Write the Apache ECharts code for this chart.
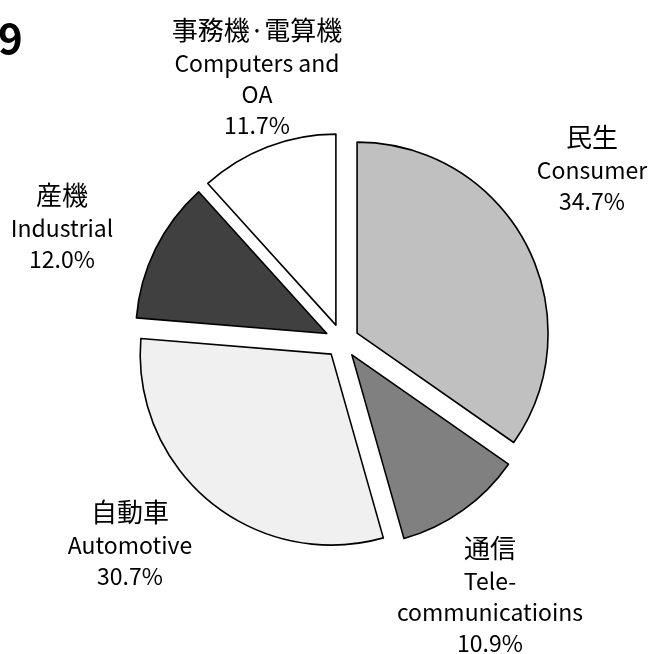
<!DOCTYPE html>
<html>
<head>
<meta charset="utf-8">
<script src="https://cdn.jsdelivr.net/npm/echarts@6/dist/echarts.min.js"></script>
<style>
html,body{margin:0;padding:0;background:#fff;}
#c{width:648px;height:654px;}
</style>
</head>
<body>
<div id="c"></div>
<script>
// Data
const namesJa = ['民生', '通信', '自動車', '産機', '事務機·電算機'];
const namesEn = ['Consumer', 'Tele-\ncommunicatioins', 'Automotive', 'Industrial', 'Computers and\nOA'];
const shares = [34.7, 10.9, 30.7, 12.0, 11.7];

// Styles / layout (not data)
const colors = ['#c0c0c0', '#808080', '#f0f0f0', '#404040', '#ffffff'];
const labelPos = [[592, 119.5], [490, 530.5], [130, 494.5], [62, 177.5], [257, 12.5]];
const FONT = '"Noto Sans CJK JP", "Noto Sans", sans-serif';

const chart = echarts.init(document.getElementById('c'), null, {renderer: 'canvas'});

const data = shares.map((v, i) => ({
  value: v,
  name: namesEn[i],
  selected: true,
  itemStyle: {color: colors[i]}
}));

const rich = {
  jp: {fontFamily: FONT, fontSize: 26, lineHeight: 35, fill: '#000', color: '#000', align: 'center'},
  en: {fontFamily: FONT, fontSize: 23, lineHeight: 31, fill: '#000', color: '#000', align: 'center'}
};

const labels = shares.map((v, i) => {
  const en = namesEn[i].split('\n').map(s => '{en|' + s + '}').join('\n');
  return {
    type: 'text',
    x: labelPos[i][0],
    y: labelPos[i][1],
    silent: true,
    style: {
      text: '{jp|' + namesJa[i] + '}\n' + en + '\n{en|' + v.toFixed(1) + '%}',
      rich: rich,
      align: 'center',
      verticalAlign: 'top',
      fill: '#000'
    }
  };
});

chart.setOption({
  animation: false,
  backgroundColor: '#ffffff',
  title: {
    text: '9',
    left: -7,
    top: 12,
    textStyle: {fontFamily: FONT, fontWeight: 'bold', fontSize: 42, color: '#000'}
  },
  graphic: labels,
  series: [{
    type: 'pie',
    center: [342, 341],
    radius: 191,
    startAngle: 90,
    clockwise: true,
    selectedMode: 'multiple',
    selectedOffset: 17,
    silent: true,
    emphasis: {disabled: true},
    select: {itemStyle: {borderColor: '#000', borderWidth: 1.6}},
    itemStyle: {borderColor: '#000', borderWidth: 1.6},
    labelLine: {show: false},
    label: {show: false},
    data: data
  }]
});
</script>
</body>
</html>
